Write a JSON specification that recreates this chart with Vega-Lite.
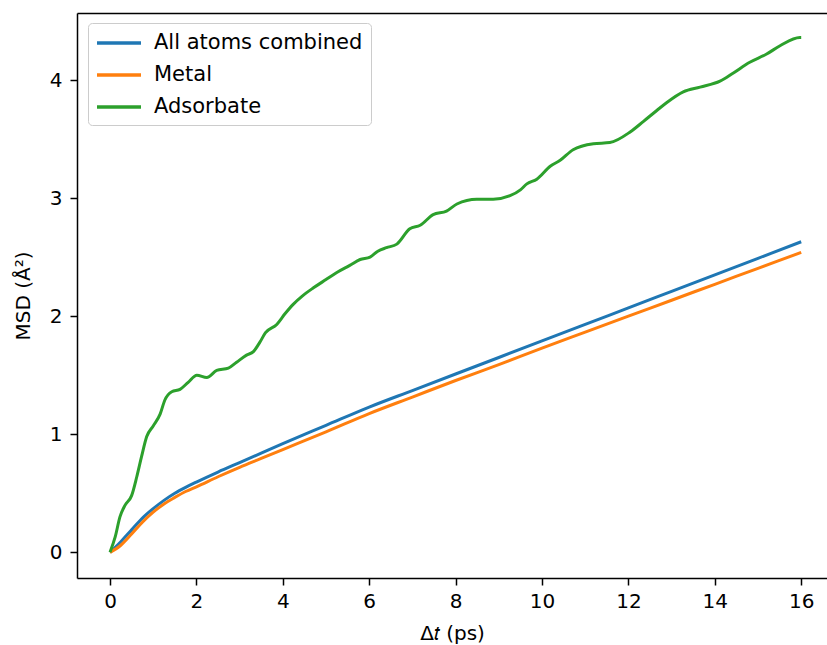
{
  "$schema": "https://vega.github.io/schema/vega-lite/v6.json",
  "autosize": "none",
  "width": 750,
  "height": 565,
  "padding": {"left": 77, "top": 13, "right": 0, "bottom": 67},
  "background": "white",
  "config": {
    "view": {"stroke": null},
    "font": "DejaVu Sans",
    "axis": {
      "grid": false,
      "domainColor": "black",
      "domainWidth": 1.5,
      "tickColor": "black",
      "tickWidth": 1.5,
      "tickSize": 7,
      "labelFont": "DejaVu Sans",
      "labelFontSize": 20,
      "labelColor": "black",
      "titleFont": "DejaVu Sans",
      "titleFontSize": 20,
      "titleFontWeight": "normal",
      "titleColor": "black"
    },
    "legend": {
      "orient": "none",
      "legendX": 11,
      "legendY": 10,
      "symbolType": "M-1.1,0H3.3",
      "symbolSize": 400,
      "symbolStrokeWidth": 3.5,
      "labelFont": "DejaVu Sans",
      "labelFontSize": 21,
      "labelColor": "black",
      "labelLimit": 400,
      "fillColor": "rgba(255,255,255,0.8)",
      "strokeColor": "#cccccc",
      "cornerRadius": 4,
      "padding": 8,
      "rowPadding": 10,
      "labelOffset": 34
    }
  },
  "data": {
    "values": [
      {"series": "All atoms combined", "t": 0, "msd": 0},
      {"series": "All atoms combined", "t": 0.25, "msd": 0.09},
      {"series": "All atoms combined", "t": 0.5, "msd": 0.19},
      {"series": "All atoms combined", "t": 0.75, "msd": 0.29},
      {"series": "All atoms combined", "t": 1.0, "msd": 0.37},
      {"series": "All atoms combined", "t": 1.25, "msd": 0.44},
      {"series": "All atoms combined", "t": 1.5, "msd": 0.5},
      {"series": "All atoms combined", "t": 1.75, "msd": 0.55},
      {"series": "All atoms combined", "t": 2.0, "msd": 0.595},
      {"series": "All atoms combined", "t": 2.5, "msd": 0.68},
      {"series": "All atoms combined", "t": 3.0, "msd": 0.76},
      {"series": "All atoms combined", "t": 3.5, "msd": 0.84},
      {"series": "All atoms combined", "t": 4.0, "msd": 0.92},
      {"series": "All atoms combined", "t": 5.0, "msd": 1.075},
      {"series": "All atoms combined", "t": 6.0, "msd": 1.23},
      {"series": "All atoms combined", "t": 7.0, "msd": 1.37},
      {"series": "All atoms combined", "t": 8.0, "msd": 1.51},
      {"series": "All atoms combined", "t": 9.0, "msd": 1.65},
      {"series": "All atoms combined", "t": 10.0, "msd": 1.79},
      {"series": "All atoms combined", "t": 11.0, "msd": 1.93},
      {"series": "All atoms combined", "t": 12.0, "msd": 2.07},
      {"series": "All atoms combined", "t": 13.0, "msd": 2.21},
      {"series": "All atoms combined", "t": 14.0, "msd": 2.35},
      {"series": "All atoms combined", "t": 15.0, "msd": 2.49},
      {"series": "All atoms combined", "t": 16.0, "msd": 2.63},
      {"series": "Metal", "t": 0, "msd": 0},
      {"series": "Metal", "t": 0.25, "msd": 0.06},
      {"series": "Metal", "t": 0.5, "msd": 0.155},
      {"series": "Metal", "t": 0.75, "msd": 0.255},
      {"series": "Metal", "t": 1.0, "msd": 0.34},
      {"series": "Metal", "t": 1.25, "msd": 0.41},
      {"series": "Metal", "t": 1.5, "msd": 0.465},
      {"series": "Metal", "t": 1.75, "msd": 0.515},
      {"series": "Metal", "t": 2.0, "msd": 0.555},
      {"series": "Metal", "t": 2.5, "msd": 0.64},
      {"series": "Metal", "t": 3.0, "msd": 0.72},
      {"series": "Metal", "t": 3.5, "msd": 0.795},
      {"series": "Metal", "t": 4.0, "msd": 0.87},
      {"series": "Metal", "t": 5.0, "msd": 1.02},
      {"series": "Metal", "t": 6.0, "msd": 1.175},
      {"series": "Metal", "t": 7.0, "msd": 1.315},
      {"series": "Metal", "t": 8.0, "msd": 1.455},
      {"series": "Metal", "t": 9.0, "msd": 1.59},
      {"series": "Metal", "t": 10.0, "msd": 1.73},
      {"series": "Metal", "t": 11.0, "msd": 1.865},
      {"series": "Metal", "t": 12.0, "msd": 2.0},
      {"series": "Metal", "t": 13.0, "msd": 2.135},
      {"series": "Metal", "t": 14.0, "msd": 2.27},
      {"series": "Metal", "t": 15.0, "msd": 2.405},
      {"series": "Metal", "t": 16.0, "msd": 2.54},
      {"series": "Adsorbate", "t": 0, "msd": 0},
      {"series": "Adsorbate", "t": 0.12, "msd": 0.13},
      {"series": "Adsorbate", "t": 0.23, "msd": 0.3},
      {"series": "Adsorbate", "t": 0.35, "msd": 0.4},
      {"series": "Adsorbate", "t": 0.5, "msd": 0.48},
      {"series": "Adsorbate", "t": 0.62, "msd": 0.64},
      {"series": "Adsorbate", "t": 0.73, "msd": 0.81},
      {"series": "Adsorbate", "t": 0.85, "msd": 0.98},
      {"series": "Adsorbate", "t": 1.0, "msd": 1.07},
      {"series": "Adsorbate", "t": 1.16, "msd": 1.17},
      {"series": "Adsorbate", "t": 1.27, "msd": 1.29},
      {"series": "Adsorbate", "t": 1.43, "msd": 1.36},
      {"series": "Adsorbate", "t": 1.62, "msd": 1.38},
      {"series": "Adsorbate", "t": 1.81, "msd": 1.44},
      {"series": "Adsorbate", "t": 2.01, "msd": 1.5},
      {"series": "Adsorbate", "t": 2.24, "msd": 1.48},
      {"series": "Adsorbate", "t": 2.47, "msd": 1.54},
      {"series": "Adsorbate", "t": 2.74, "msd": 1.56},
      {"series": "Adsorbate", "t": 2.93, "msd": 1.61},
      {"series": "Adsorbate", "t": 3.16, "msd": 1.67},
      {"series": "Adsorbate", "t": 3.32, "msd": 1.7},
      {"series": "Adsorbate", "t": 3.47, "msd": 1.78},
      {"series": "Adsorbate", "t": 3.6, "msd": 1.86},
      {"series": "Adsorbate", "t": 3.86, "msd": 1.93},
      {"series": "Adsorbate", "t": 4.05, "msd": 2.02},
      {"series": "Adsorbate", "t": 4.24, "msd": 2.1},
      {"series": "Adsorbate", "t": 4.45, "msd": 2.17},
      {"series": "Adsorbate", "t": 4.71, "msd": 2.24},
      {"series": "Adsorbate", "t": 5.0, "msd": 2.31},
      {"series": "Adsorbate", "t": 5.25, "msd": 2.37},
      {"series": "Adsorbate", "t": 5.55, "msd": 2.43},
      {"series": "Adsorbate", "t": 5.79, "msd": 2.48},
      {"series": "Adsorbate", "t": 6.02, "msd": 2.5},
      {"series": "Adsorbate", "t": 6.2, "msd": 2.55},
      {"series": "Adsorbate", "t": 6.4, "msd": 2.58},
      {"series": "Adsorbate", "t": 6.64, "msd": 2.61},
      {"series": "Adsorbate", "t": 6.94, "msd": 2.74},
      {"series": "Adsorbate", "t": 7.18, "msd": 2.77},
      {"series": "Adsorbate", "t": 7.48, "msd": 2.86},
      {"series": "Adsorbate", "t": 7.79, "msd": 2.89},
      {"series": "Adsorbate", "t": 8.03, "msd": 2.95},
      {"series": "Adsorbate", "t": 8.49, "msd": 2.99},
      {"series": "Adsorbate", "t": 8.87, "msd": 2.99},
      {"series": "Adsorbate", "t": 9.26, "msd": 3.02},
      {"series": "Adsorbate", "t": 9.5, "msd": 3.07},
      {"series": "Adsorbate", "t": 9.65, "msd": 3.12},
      {"series": "Adsorbate", "t": 9.88, "msd": 3.16},
      {"series": "Adsorbate", "t": 10.19, "msd": 3.27},
      {"series": "Adsorbate", "t": 10.42, "msd": 3.32},
      {"series": "Adsorbate", "t": 10.72, "msd": 3.41},
      {"series": "Adsorbate", "t": 11.19, "msd": 3.46},
      {"series": "Adsorbate", "t": 11.57, "msd": 3.47},
      {"series": "Adsorbate", "t": 12.04, "msd": 3.56},
      {"series": "Adsorbate", "t": 12.35, "msd": 3.65},
      {"series": "Adsorbate", "t": 12.65, "msd": 3.74},
      {"series": "Adsorbate", "t": 12.89, "msd": 3.81},
      {"series": "Adsorbate", "t": 13.27, "msd": 3.9},
      {"series": "Adsorbate", "t": 13.66, "msd": 3.94},
      {"series": "Adsorbate", "t": 14.12, "msd": 3.99},
      {"series": "Adsorbate", "t": 14.43, "msd": 4.06},
      {"series": "Adsorbate", "t": 14.81, "msd": 4.15},
      {"series": "Adsorbate", "t": 15.2, "msd": 4.22},
      {"series": "Adsorbate", "t": 15.51, "msd": 4.29},
      {"series": "Adsorbate", "t": 15.97, "msd": 4.36},
      {"series": "Adsorbate", "t": 16.0, "msd": 4.36}
    ]
  },
  "encoding": {
    "y": {
      "field": "msd",
      "type": "quantitative",
      "scale": {"domain": [-0.2175, 4.5675], "nice": false, "zero": false},
      "axis": {"values": [0, 1, 2, 3, 4], "title": "MSD (Å²)", "titlePadding": 16, "labelPadding": 8}
    },
    "color": {
      "field": "series",
      "type": "nominal",
      "scale": {"domain": ["All atoms combined", "Metal", "Adsorbate"], "range": ["#1f77b4", "#ff7f0e", "#2ca02c"]},
      "legend": {"title": null}
    }
  },
  "layer": [
    {
      "transform": [{"filter": "datum.series !== 'Adsorbate'"}],
      "mark": {"type": "line", "strokeWidth": 3, "interpolate": "monotone"},
      "encoding": {
        "x": {
          "field": "t",
          "type": "quantitative",
          "scale": {"domain": [-0.764, 16.597], "nice": false, "zero": false},
          "axis": {"values": [0, 2, 4, 6, 8, 10, 12, 14, 16], "title": "Δ𝑡 (ps)", "titlePadding": 12, "labelPadding": 6, "orient": "bottom"}
        }
      }
    },
    {
      "transform": [{"filter": "datum.series === 'Adsorbate'"}],
      "mark": {"type": "line", "strokeWidth": 3, "interpolate": "monotone"},
      "encoding": {
        "x": {
          "field": "t",
          "type": "quantitative",
          "scale": {"domain": [-0.764, 16.597], "nice": false, "zero": false},
          "axis": {"orient": "top", "labels": false, "ticks": false, "title": null, "domain": true}
        }
      }
    }
  ],
  "resolve": {"axis": {"x": "independent"}}
}
